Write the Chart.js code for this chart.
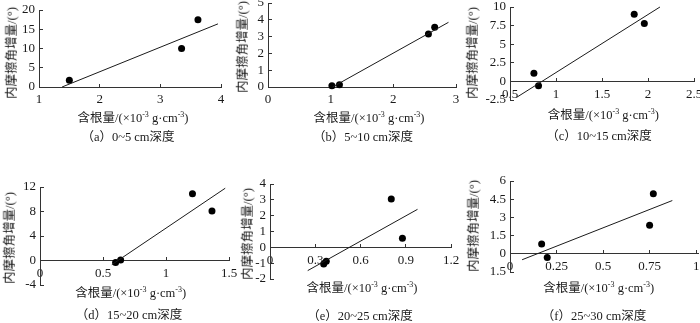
<!DOCTYPE html>
<html><head><meta charset="utf-8">
<script src="https://cdn.jsdelivr.net/npm/chart.js@4.4.1/dist/chart.umd.min.js"></script>
<style>
html,body{margin:0;padding:0;width:700px;height:323px;overflow:hidden;background:#fff;}
canvas{position:absolute;}
.t{position:absolute;white-space:nowrap;font-family:"Liberation Serif","Noto Sans CJK SC",serif;color:#1a1a1a;font-size:12.5px;line-height:1;transform:translate(-50%,-50%);}
.yt{transform:translate(-50%,-50%) rotate(-90deg);}
sup{font-size:8px;vertical-align:0;position:relative;top:-5px;}
</style></head><body>
<script>
// ---- data ----
const xA=[1.5,3.35,3.62], yA=[1.75,10.0,17.5];
const lineXA=[1.38,3.95], lineYA=[0,16.4];
const xTicksA=[1,2,3,4], xLabelsA=['1','2','3','4'];
const yTicksA=[0,5,10,15,20], yLabelsA=['0','5','10','15','20'];

const xB=[1.02,1.14,2.56,2.66], yB=[0.08,0.14,3.15,3.55];
const lineXB=[1.03,2.88], lineYB=[0,3.85];
const xTicksB=[0,1,2,3], xLabelsB=['0','1','2','3'];
const yTicksB=[0,1,2,3,4,5], yLabelsB=['0','1','2','3','4','5'];

const xC=[0.76,0.81,1.85,1.96], yC=[1.08,-0.58,9.04,7.78];
const lineXC=[0.57,2.13], lineYC=[-2.16,10];
const xTicksC=[0.5,1,1.5,2,2.5], xLabelsC=['0.5','1','1.5','2','2.5'];
const yTicksC=[-2.5,0,2.5,5,7.5,10], yLabelsC=['-2.5','0','2.5','5','7.5','10'];

const xD=[0.60,0.64,1.21,1.365], yD=[-0.34,0.1,10.9,8.1];
const lineXD=[0.57,1.47], lineYD=[-0.68,11.8];
const xTicksD=[0,0.5,1,1.5], xLabelsD=['0','0.5','1','1.5'];
const yTicksD=[-4,0,4,8,12], yLabelsD=['-4','0','4','8','12'];

const xE=[0.356,0.373,0.804,0.878], yE=[-1.05,-0.88,3.05,0.57];
const lineXE=[0.25,0.978], lineYE=[-1.47,2.4];
const xTicksE=[0,0.3,0.6,0.9,1.2], xLabelsE=['0','0.3','0.6','0.9','1.2'];
const yTicksE=[-2,-1,0,1,2,3,4], yLabelsE=['-2','-1','0','1','2','3','4'];

const xF=[0.17,0.2,0.75,0.77], yF=[0.8,-0.3,2.35,4.95];
const lineXF=[0.065,0.872], lineYF=[-0.49,4.39];
const xTicksF=[0,0.25,0.5,0.75,1], xLabelsF=['0','0.25','0.5','0.75','1'];
const yTicksF=[-1.5,0,1.5,3,4.5,6], yLabelsF=['1.5','0','1.5','3','4.5','6'];

const yTitle='内摩擦角增量/(°)';
const xTitleHTML='含根量/(×10<sup>-3</sup> g·cm<sup>-3</sup>)';
const captions=['（a）0~5 cm深度','（b）5~10 cm深度','（c）10~15 cm深度','（d）15~20 cm深度','（e）20~25 cm深度','（f）25~30 cm深度'];

// ---- layout (page pixels) ----
const panels=[
 {x:xA,y:yA,lx:lineXA,ly:lineYA,xt:xTicksA,xl:xLabelsA,yt:yTicksA,yl:yLabelsA,xMin:1,xMax:4,yMin:0,yMax:20,L:39,R:221,T:10,B:87,yT:[11.7,53],xT:[133,118],cap:[128,137]},
 {x:xB,y:yB,lx:lineXB,ly:lineYB,xt:xTicksB,xl:xLabelsB,yt:yTicksB,yl:yLabelsB,xMin:0,xMax:3,yMin:0,yMax:5,L:268,R:456,T:3,B:87,yT:[243.3,47],xT:[369,118],cap:[363,137.3]},
 {x:xC,y:yC,lx:lineXC,ly:lineYC,xt:xTicksC,xl:xLabelsC,yt:yTicksC,yl:yLabelsC,xMin:0.5,xMax:2.5,yMin:-2.5,yMax:10,L:510,R:694,T:7,B:100,yT:[473,53],xT:[603.3,115],cap:[599,136]},
 {x:xD,y:yD,lx:lineXD,ly:lineYD,xt:xTicksD,xl:xLabelsD,yt:yTicksD,yl:yLabelsD,xMin:0,xMax:1.5,yMin:-4,yMax:12,L:40,R:229,T:187,B:285,yT:[9.5,238],xT:[130.7,293.3],cap:[129,315]},
 {x:xE,y:yE,lx:lineXE,ly:lineYE,xt:xTicksE,xl:xLabelsE,yt:yTicksE,yl:yLabelsE,xMin:0,xMax:1.2,yMin:-2,yMax:4,L:270,R:451,T:184,B:279,yT:[248.3,233.5],xT:[362,287.7],cap:[360,316]},
 {x:xF,y:yF,lx:lineXF,ly:lineYF,xt:xTicksF,xl:xLabelsF,yt:yTicksF,yl:yLabelsF,xMin:0,xMax:1.01,yMin:-1.5,yMax:6,L:510,R:698,T:181,B:272,yT:[474.3,226],xT:[598.7,287.7],cap:[594,316]}
];

const FONT={family:'"Liberation Serif", serif',size:13};
function zeroPad(s){s.paddingLeft=0;s.paddingRight=0;s.paddingTop=0;s.paddingBottom=0;}

panels.forEach((p,k)=>{
  const PL=40,PT=10,PR=12,PB=24;
  const left=p.L-PL, top=p.T-PT;
  const w=(p.R-p.L)+PL+PR, h=(p.B-p.T)+PT+PB;
  const cv=document.createElement('canvas');
  cv.width=w; cv.height=h;
  cv.style.left=left+'px'; cv.style.top=top+'px';
  cv.style.width=w+'px'; cv.style.height=h+'px';
  document.body.appendChild(cv);
  new Chart(cv,{
    type:'scatter',
    data:{datasets:[
      {data:p.lx.map((v,i)=>({x:v,y:p.ly[i]})),showLine:true,borderColor:'#1a1a1a',borderWidth:1,pointRadius:0,pointHoverRadius:0,fill:false,clip:false},
      {data:p.x.map((v,i)=>({x:v,y:p.y[i]})),backgroundColor:'#000',borderColor:'#000',borderWidth:0,pointRadius:3.5,pointHoverRadius:3.5,clip:false}
    ]},
    options:{
      responsive:false,animation:false,events:[],devicePixelRatio:1,
      layout:{padding:{left:0,top:PT,right:PR,bottom:PB}},
      plugins:{legend:{display:false},tooltip:{enabled:false}},
      scales:{
        x:{type:'linear',position:{y:0},min:p.xMin,max:p.xMax,bounds:'data',
          afterBuildTicks:s=>{s.ticks=p.xt.map(v=>({value:v}));},
          afterFit:zeroPad,
          ticks:{padding:9,maxRotation:0,minRotation:0,autoSkip:false,font:FONT,color:'#1a1a1a',callback:(v,i)=>p.xl[i]},
          grid:{display:true,drawOnChartArea:false,drawTicks:true,tickLength:-4,color:'#333',lineWidth:1},
          border:{display:true,color:'#333',width:1}},
        y:{type:'linear',position:'left',min:p.yMin,max:p.yMax,bounds:'data',
          afterBuildTicks:s=>{s.ticks=p.yt.map(v=>({value:v}));},
          afterFit:s=>{s.width=PL;zeroPad(s);},
          ticks:{padding:8,autoSkip:false,font:FONT,color:'#1a1a1a',callback:(v,i)=>p.yl[i]},
          grid:{display:true,drawOnChartArea:false,drawTicks:true,tickLength:-4,color:'#333',lineWidth:1},
          border:{display:true,color:'#333',width:1}}
      }
    }
  });
  const yt=document.createElement('div');
  yt.className='t yt'; yt.textContent=yTitle;
  yt.style.left=p.yT[0]+'px'; yt.style.top=p.yT[1]+'px';
  document.body.appendChild(yt);
  const xt=document.createElement('div');
  xt.className='t'; xt.innerHTML=xTitleHTML;
  xt.style.left=p.xT[0]+'px'; xt.style.top=p.xT[1]+'px';
  document.body.appendChild(xt);
  const cp=document.createElement('div');
  cp.className='t'; cp.textContent=captions[k];
  cp.style.left=p.cap[0]+'px'; cp.style.top=p.cap[1]+'px';
  document.body.appendChild(cp);
});
</script>
</body></html>
